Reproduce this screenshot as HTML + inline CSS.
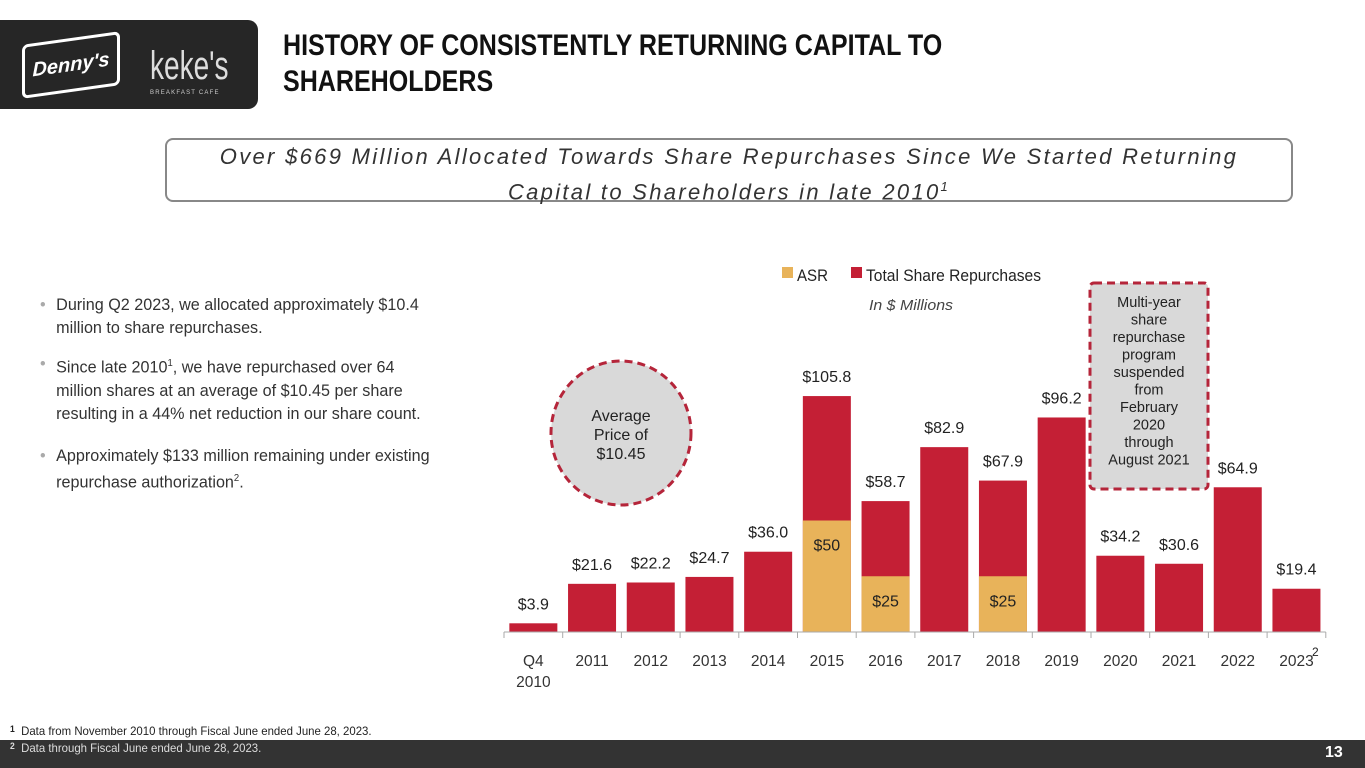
<!DOCTYPE html>
<html><head><meta charset="utf-8"><style>
body{margin:0;width:1365px;height:768px;overflow:hidden;background:#fff;font-family:"Liberation Sans Narrow","Liberation Sans",sans-serif;position:relative}
.abs{position:absolute}
</style></head><body>
<div class="abs" style="left:0;top:20px;width:258px;height:89px;background:#262626;border-radius:0 10px 10px 0"></div>
<div class="abs" style="left:22px;top:38px;width:92px;height:48px;border:3px solid #fff;border-radius:6px;transform:skewY(-8deg);color:#fff;font:bold italic 20px 'Liberation Sans',sans-serif;display:flex;align-items:center;justify-content:center">Denny's</div>
<div class="abs" style="left:150px;top:44px;color:#ddd;font:300 40px 'Liberation Sans',sans-serif;transform:scaleX(0.7);transform-origin:left">keke's</div>
<div class="abs" style="left:150px;top:90px;color:#ccc;font:6px 'Liberation Sans',sans-serif;letter-spacing:1.2px">BREAKFAST CAFE</div>
<div class="abs" style="left:283px;top:28px;font:bold 30px/36px 'Liberation Sans',sans-serif;color:#111;transform:scaleX(0.835);transform-origin:left;white-space:nowrap">HISTORY OF CONSISTENTLY RETURNING CAPITAL TO<br>SHAREHOLDERS</div>
<div class="abs" style="left:165px;top:138px;width:1124px;height:58px;border:2px solid #888;border-radius:8px;text-align:center;font:italic 22px/30px 'Liberation Sans',sans-serif;letter-spacing:2.3px;color:#333;padding-top:2px;white-space:nowrap">Over $669 Million Allocated Towards Share Repurchases Since We Started Returning<br>Capital to Shareholders in late 2010<sup style="font-size:13px">1</sup></div>
<div class="abs" style="left:40px;top:293px;width:440px;font:17px/23px 'Liberation Sans',sans-serif;color:#333">
<div style="padding-left:17px;position:relative;margin-bottom:13px;width:400px;transform:scaleX(0.95);transform-origin:left"><span style="position:absolute;left:0;color:#aaa">•</span>During Q2 2023, we allocated approximately $10.4 million to share repurchases.</div>
<div style="padding-left:17px;position:relative;margin-bottom:19px;width:445px;transform:scaleX(0.95);transform-origin:left"><span style="position:absolute;left:0;color:#aaa">•</span>Since late 2010<sup style="font-size:10px">1</sup>, we have repurchased over 64<br>million shares at an average of $10.45 per share<br>resulting in a 44% net reduction in our share count.</div>
<div style="padding-left:17px;position:relative;width:460px;transform:scaleX(0.95);transform-origin:left"><span style="position:absolute;left:0;color:#aaa">•</span>Approximately $133 million remaining under existing<br>repurchase authorization<sup style="font-size:10px">2</sup>.</div>
</div>
<svg class="abs" style="left:0;top:0" width="1365" height="768" id="chart">
<rect x="782" y="267" width="11" height="11" fill="#e8b35a"/>
<text x="797" y="281" font-size="17" fill="#222" textLength="31" lengthAdjust="spacingAndGlyphs">ASR</text>
<rect x="851" y="267" width="11" height="11" fill="#c41f35"/>
<text x="866" y="281" font-size="17" fill="#222" textLength="175" lengthAdjust="spacingAndGlyphs">Total Share Repurchases</text>
<text x="911" y="310" font-size="15" font-style="italic" fill="#444" text-anchor="middle" textLength="84" lengthAdjust="spacingAndGlyphs">In $ Millions</text>
<ellipse cx="621" cy="433" rx="70" ry="72" fill="#d9d9d9" stroke="#b5253a" stroke-width="3" stroke-dasharray="8,5"/>
<text x="621" y="421" font-size="16" text-anchor="middle" fill="#222"><tspan x="621">Average</tspan><tspan x="621" dy="19">Price of</tspan><tspan x="621" dy="19">$10.45</tspan></text>
<rect x="1090" y="283" width="118" height="206" rx="4" fill="#d9d9d9" stroke="#b5253a" stroke-width="3" stroke-dasharray="8,5"/>
<text font-size="14.5" text-anchor="middle" fill="#222"><tspan x="1149" y="307">Multi-year</tspan><tspan x="1149" dy="17.5">share</tspan><tspan x="1149" dy="17.5">repurchase</tspan><tspan x="1149" dy="17.5">program</tspan><tspan x="1149" dy="17.5">suspended</tspan><tspan x="1149" dy="17.5">from</tspan><tspan x="1149" dy="17.5">February</tspan><tspan x="1149" dy="17.5">2020</tspan><tspan x="1149" dy="17.5">through</tspan><tspan x="1149" dy="17.5">August 2021</tspan></text>
<g id="marks"></g>
<text x="1312" y="656" font-size="12" fill="#222">2</text>
</svg>
<div class="abs" style="left:10px;top:724px;font:12px 'Liberation Sans',sans-serif;color:#222;transform:scaleX(0.95);transform-origin:left"><b style="font-size:9px;vertical-align:top">1</b>&nbsp; Data from November 2010 through Fiscal June ended June 28, 2023.</div>
<div class="abs" style="left:0;top:740px;width:1365px;height:28px;background:#333"></div>
<div class="abs" style="left:10px;top:741px;font:12px 'Liberation Sans',sans-serif;color:#ddd;transform:scaleX(0.95);transform-origin:left"><b style="font-size:9px;vertical-align:top">2</b>&nbsp; Data through Fiscal June ended June 28, 2023.</div>
<div class="abs" style="left:1325px;top:744px;font:bold 16px 'Liberation Sans',sans-serif;color:#fff">13</div>
<script>
const categories=["Q4|2010","2011","2012","2013","2014","2015","2016","2017","2018","2019","2020","2021","2022","2023"];
const totals=[3.9,21.6,22.2,24.7,36.0,105.8,58.7,82.9,67.9,96.2,34.2,30.6,64.9,19.4];
const asr=[0,0,0,0,0,50,25,0,25,0,0,0,0,0];
const totalLabels=["$3.9","$21.6","$22.2","$24.7","$36.0","$105.8","$58.7","$82.9","$67.9","$96.2","$34.2","$30.6","$64.9","$19.4"];
const asrLabels=["","","","","","$50","$25","","$25","","","","",""];
const NS="http://www.w3.org/2000/svg";
const g=document.getElementById('marks');
const x0=504,step=58.7,base=632,k=2.23,bw=48;
const xs=i=>x0+i*step;
const ys=v=>base-v*k;
function mk(t,a){const e=document.createElementNS(NS,t);for(const n in a)e.setAttribute(n,a[n]);g.appendChild(e);return e;}
categories.forEach((c,i)=>{
  const cx=xs(i)+step/2;
  const r=mk('rect',{x:cx-bw/2,y:ys(totals[i]),width:bw,height:totals[i]*k,fill:'#c41f35'});
  
  
  if(asr[i]>0){
    const a=mk('rect',{x:cx-bw/2,y:ys(asr[i]),width:bw,height:asr[i]*k,fill:'#e8b35a'});
    
    
    const at=mk('text',{x:cx,y:ys(asr[i])+30,'font-size':16,'text-anchor':'middle',fill:'#222'});
    at.textContent=asrLabels[i];
    
    
  }
  const t=mk('text',{x:cx,y:ys(totals[i])-14,'font-size':16,'text-anchor':'middle',fill:'#222'});
  t.textContent=totalLabels[i];
  
  
  const parts=c.split('|');
  const lt=mk('text',{x:cx,y:666,'font-size':15.5,'text-anchor':'middle',fill:'#333'});
  
  
  parts.forEach((p,j)=>{const s=document.createElementNS(NS,'tspan');s.setAttribute('x',cx);if(j)s.setAttribute('dy',21);s.textContent=p;lt.appendChild(s);});
  const tk=mk('line',{x1:xs(i),x2:xs(i),y1:base,y2:base+6,stroke:'#aaa'});
  
  
});
const endT=mk('line',{x1:xs(categories.length),x2:xs(categories.length),y1:base,y2:base+6,stroke:'#aaa'});


const ax=mk('line',{x1:x0,x2:xs(categories.length),y1:base,y2:base,stroke:'#aaa'});


</script>
</body></html>
